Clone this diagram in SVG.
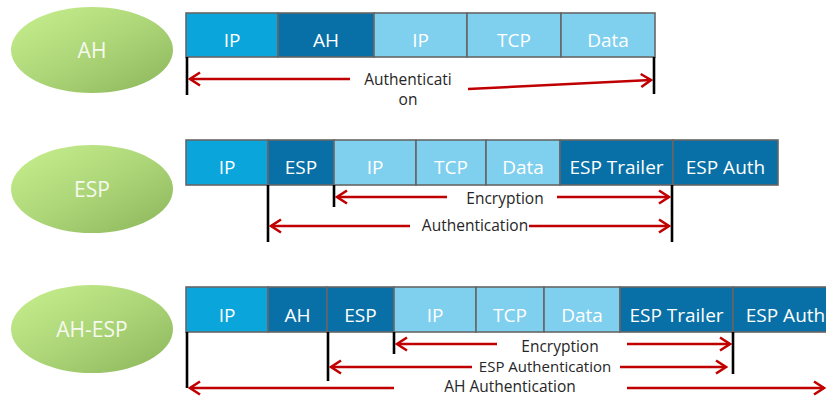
<svg xmlns="http://www.w3.org/2000/svg" width="826" height="396" viewBox="0 0 826 396">
<defs>
<linearGradient id="g" x1="0" y1="0" x2="1" y2="1">
<stop offset="0" stop-color="#c8f08e"/>
<stop offset="0.5" stop-color="#add679"/>
<stop offset="1" stop-color="#8ab558"/>
</linearGradient>
<marker id="ah" markerUnits="userSpaceOnUse" markerWidth="14" markerHeight="16" viewBox="0 0 14 16" refX="12" refY="8" orient="auto">
<path d="M2,1.5 L12,8 L2,14.5" fill="none" stroke="#c00000" stroke-width="2.6"/>
</marker>
<style>
.ell{fill:url(#g);}
.et{font-family:"Open Sans","Noto Sans",sans-serif;font-size:21px;fill:#f6f9f0;text-anchor:middle;}
.c{stroke:#666;stroke-width:1.6;}
.a{fill:#0aa5da;}
.d{fill:#0870a6;}
.l{fill:#7fcfee;}
.ct{font-family:"Open Sans","Noto Sans",sans-serif;font-size:19px;fill:#ffffff;text-anchor:middle;}
.arr{stroke:#c00000;stroke-width:2.6;fill:none;marker-end:url(#ah);}
.v{stroke:#000;stroke-width:2.6;}
.lt{font-family:"Open Sans","Noto Sans",sans-serif;font-size:15.5px;fill:#262626;text-anchor:middle;}
</style>
</defs>
<rect width="826" height="396" fill="#fff"/>

<g id="ell-ah"><ellipse class="ell" cx="92" cy="50" rx="81" ry="43"/><text class="et" x="92" y="58">AH</text></g>
<g id="ell-esp"><ellipse class="ell" cx="92" cy="189" rx="81" ry="44"/><text class="et" x="92" y="197">ESP</text></g>
<g id="ell-ahesp"><ellipse class="ell" cx="92" cy="329" rx="81" ry="44"/><text class="et" x="92" y="337">AH-ESP</text></g>

<!-- Row 1 -->
<g id="r1-ip"><rect class="c a" x="186" y="13" width="92" height="44"/><text class="ct" x="232" y="47">IP</text></g>
<g id="r1-ah"><rect class="c d" x="278" y="13" width="96" height="44"/><text class="ct" x="326" y="47">AH</text></g>
<g id="r1-ip2"><rect class="c l" x="374" y="13" width="93" height="44"/><text class="ct" x="420.5" y="47">IP</text></g>
<g id="r1-tcp"><rect class="c l" x="467" y="13" width="94" height="44"/><text class="ct" x="514" y="47">TCP</text></g>
<g id="r1-data"><rect class="c l" x="561" y="13" width="94" height="44"/><text class="ct" x="608" y="47">Data</text></g>

<!-- Row 2 -->
<g id="r2-ip"><rect class="c a" x="186" y="140" width="82" height="45"/><text class="ct" x="227" y="174">IP</text></g>
<g id="r2-esp"><rect class="c d" x="268" y="140" width="66" height="45"/><text class="ct" x="301" y="174">ESP</text></g>
<g id="r2-ip2"><rect class="c l" x="334" y="140" width="82" height="45"/><text class="ct" x="375" y="174">IP</text></g>
<g id="r2-tcp"><rect class="c l" x="416" y="140" width="70" height="45"/><text class="ct" x="451" y="174">TCP</text></g>
<g id="r2-data"><rect class="c l" x="486" y="140" width="74" height="45"/><text class="ct" x="523" y="174">Data</text></g>
<g id="r2-trailer"><rect class="c d" x="560" y="140" width="113" height="45"/><text class="ct" x="616.5" y="174">ESP Trailer</text></g>
<g id="r2-auth"><rect class="c d" x="673" y="140" width="105" height="45"/><text class="ct" x="725.5" y="174">ESP Auth</text></g>

<!-- Row 3 -->
<g id="r3-ip"><rect class="c a" x="186" y="287" width="82" height="45"/><text class="ct" x="227" y="322">IP</text></g>
<g id="r3-ah"><rect class="c d" x="268" y="287" width="59" height="45"/><text class="ct" x="297.5" y="322">AH</text></g>
<g id="r3-esp"><rect class="c d" x="327" y="287" width="67" height="45"/><text class="ct" x="360.5" y="322">ESP</text></g>
<g id="r3-ip2"><rect class="c l" x="394" y="287" width="82" height="45"/><text class="ct" x="435" y="322">IP</text></g>
<g id="r3-tcp"><rect class="c l" x="476" y="287" width="68" height="45"/><text class="ct" x="510" y="322">TCP</text></g>
<g id="r3-data"><rect class="c l" x="544" y="287" width="76" height="45"/><text class="ct" x="582" y="322">Data</text></g>
<g id="r3-trailer"><rect class="c d" x="620" y="287" width="113" height="45"/><text class="ct" x="676.5" y="322">ESP Trailer</text></g>
<g id="r3-auth"><rect class="c d" x="733" y="287" width="105" height="45"/><text class="ct" x="785.5" y="322">ESP Auth</text></g>

<g id="connectors">
<!-- Row 1 -->
<line class="v" x1="187" y1="57" x2="187" y2="95"/>
<line class="v" x1="654" y1="57" x2="654" y2="94"/>
<line class="arr" x1="350" y1="79" x2="190" y2="79"/>
<line class="arr" x1="468" y1="89" x2="651" y2="80"/>
<text class="lt" x="408" y="85">Authenticati</text>
<text class="lt" x="408" y="105">on</text>

<!-- Row 2 -->
<line class="v" x1="268" y1="185" x2="268" y2="242"/>
<line class="v" x1="334" y1="185" x2="334" y2="207"/>
<line class="v" x1="672" y1="185" x2="672" y2="242"/>
<line class="arr" x1="447" y1="197" x2="337" y2="197"/>
<line class="arr" x1="557" y1="197" x2="669" y2="197"/>
<text class="lt" x="505" y="204">Encryption</text>
<line class="arr" x1="410" y1="226" x2="271" y2="226"/>
<line class="arr" x1="529" y1="226" x2="669" y2="226"/>
<text class="lt" x="475" y="231">Authentication</text>

<!-- Row 3 -->
<line class="v" x1="187" y1="332" x2="187" y2="388"/>
<line class="v" x1="328" y1="332" x2="328" y2="381"/>
<line class="v" x1="394" y1="332" x2="394" y2="354"/>
<line class="v" x1="733" y1="332" x2="733" y2="374"/>
<line class="arr" x1="497" y1="344" x2="397" y2="344"/>
<line class="arr" x1="627" y1="344" x2="730" y2="344"/>
<text class="lt" x="560" y="352">Encryption</text>
<line class="arr" x1="472" y1="367" x2="331" y2="367"/>
<line class="arr" x1="620" y1="367" x2="726" y2="367"/>
<text class="lt" x="545" y="372" style="font-size:15px">ESP Authentication</text>
<line class="arr" x1="394" y1="388" x2="190" y2="388"/>
<line class="arr" x1="627" y1="388" x2="824" y2="388"/>
<text class="lt" x="510" y="392">AH Authentication</text>
</g>
</svg>
